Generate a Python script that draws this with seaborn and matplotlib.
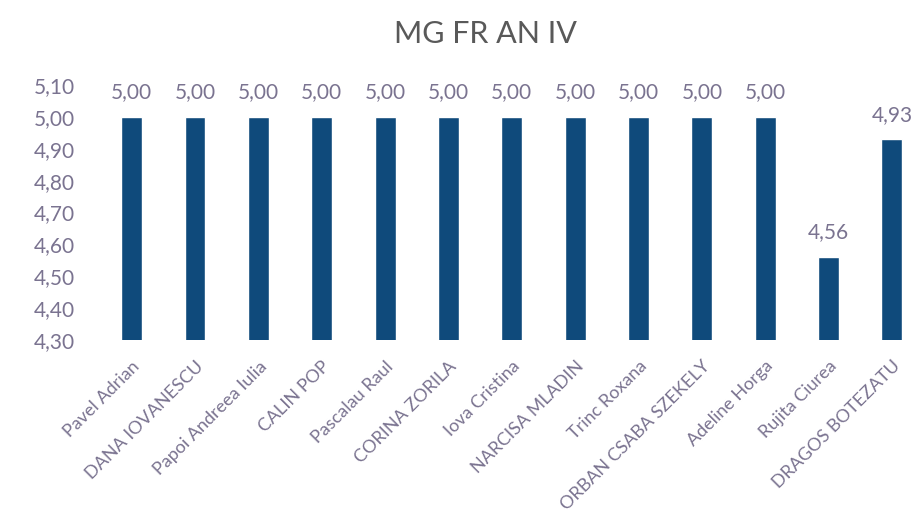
import matplotlib
matplotlib.use("Agg")
import matplotlib.pyplot as plt
import seaborn as sns
import pandas as pd

# Data
names = [
    "Pavel Adrian", "DANA IOVANESCU", "Papoi Andreea Iulia", "CALIN POP",
    "Pascalau Raul", "CORINA ZORILA", "Iova Cristina", "NARCISA MLADIN",
    "Trinc Roxana", "ORBAN CSABA SZEKELY", "Adeline Horga", "Rujita Ciurea",
    "DRAGOS BOTEZATU",
]
grades = [5.00, 5.00, 5.00, 5.00, 5.00, 5.00, 5.00, 5.00, 5.00, 5.00, 5.00, 4.56, 4.93]
y_ticks = [4.30, 4.40, 4.50, 4.60, 4.70, 4.80, 4.90, 5.00, 5.10]

df = pd.DataFrame({"name": names, "grade": grades})

sns.set_style("white")
plt.rcParams["font.family"] = ["Lato", "DejaVu Sans"]

bar_color = "#0f4a7b"
text_color = "#7a7390"

fig = plt.figure(figsize=(9.16, 5.28), dpi=100)
ax = fig.add_axes([100 / 916, 1 - 340 / 528, 816 / 916, 255 / 528])

sns.barplot(data=df, x="name", y="grade", color=bar_color, width=0.33,
            saturation=1, ax=ax)

ax.set_ylim(4.30, 5.10)
ax.set_xlim(-0.5, 12.38)
ax.set_yticks(y_ticks)
ax.set_yticklabels([f"{v:.2f}".replace(".", ",") for v in y_ticks],
                   color=text_color, fontsize=15)
ax.set_xticks(range(len(names)))
ax.set_xticklabels(names, rotation=45, ha="right", rotation_mode="anchor",
                   color=text_color, fontsize=13)
ax.tick_params(axis="y", length=0, pad=18)
ax.tick_params(axis="x", length=0, pad=13)
ax.set_xlabel("")
ax.set_ylabel("")
sns.despine(ax=ax, left=True, bottom=True)

for i, v in enumerate(grades):
    ax.text(i, v + 0.077, f"{v:.2f}".replace(".", ","), ha="center", va="center",
            color=text_color, fontsize=15, clip_on=False)

fig.text(0.53, 0.935, "MG FR AN IV", ha="center", va="center",
         fontsize=22, color="#595959")

fig.savefig("out.png", dpi=100)
